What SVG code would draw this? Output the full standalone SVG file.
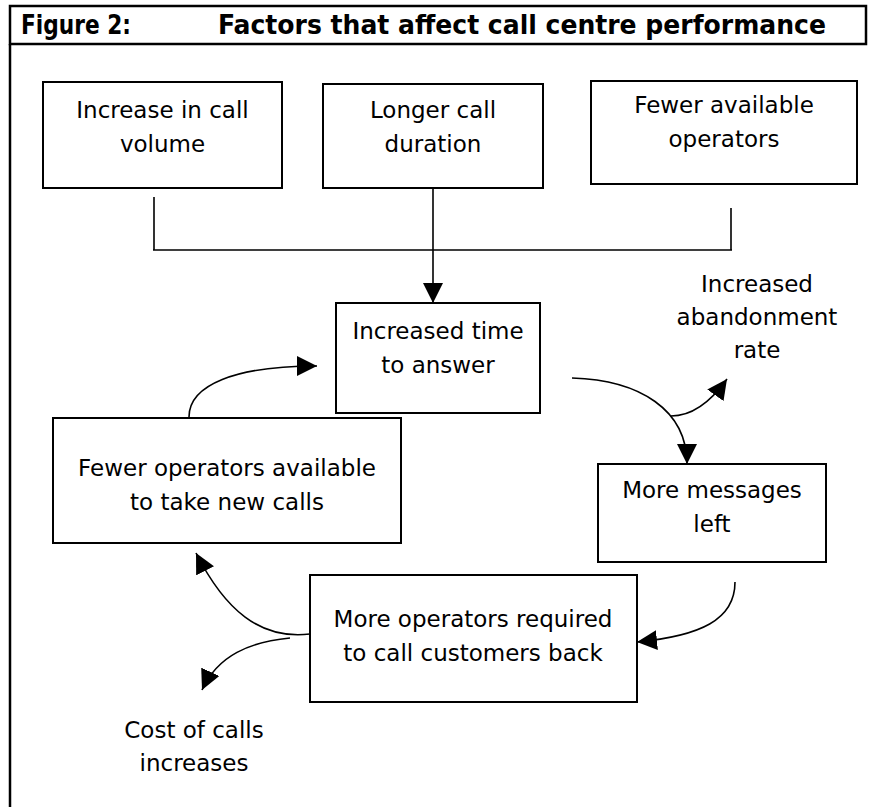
<svg xmlns="http://www.w3.org/2000/svg" width="872" height="807" viewBox="0 0 872 807">
<defs>
<style>
.frame{fill:none;stroke:#000;stroke-width:2.5}
.box{fill:#fff;stroke:#000;stroke-width:2}
.t{font-family:"DejaVu Sans",Verdana,sans-serif;font-size:23px;text-anchor:middle;fill:#000}
.h{font-family:"DejaVu Sans Condensed","DejaVu Sans",sans-serif;font-weight:bold;font-size:27px;fill:#000}
.ln{fill:none;stroke:#000;stroke-width:1.6}
</style>
<marker id="ah" viewBox="0 0 20 20" refX="20" refY="10" markerWidth="20" markerHeight="20" markerUnits="userSpaceOnUse" orient="auto"><path d="M0,0 L20,10 L0,20 z" fill="#000"/></marker>
</defs>
<rect width="872" height="807" fill="#fff"/>
<g id="frame">
<rect class="frame" x="10" y="6" width="856" height="38"/>
<line class="frame" x1="10" y1="44" x2="10" y2="807"/>
<text class="h" x="21" y="34" textLength="110" lengthAdjust="spacingAndGlyphs">Figure 2:</text>
<text class="h" x="218" y="34" textLength="608" lengthAdjust="spacingAndGlyphs">Factors that affect call centre performance</text>
</g>
<g id="connectors">
<path class="ln" d="M154,197 V250 M731,208 V250 M153,250 H732"/>
<path class="ln" d="M433,189 V303" marker-end="url(#ah)"/>
<path class="ln" d="M189,417 C189,385 235,366 317,366" marker-end="url(#ah)"/>
<path class="ln" d="M572,378 C640,380 687,410 687,464" marker-end="url(#ah)"/>
<path class="ln" d="M671,416 C693,416 712,400 727,379" marker-end="url(#ah)"/>
<path class="ln" d="M735,582 C735,620 700,636 637,642" marker-end="url(#ah)"/>
<path class="ln" d="M310,634 C260,640 225,610 196,553" marker-end="url(#ah)"/>
<path class="ln" d="M290,638 C250,642 218,655 202,690" marker-end="url(#ah)"/>
</g>
<g id="n-volume">
<rect class="box" x="43" y="82" width="239" height="106"/>
<text class="t" x="162.5" y="118">Increase in call</text>
<text class="t" x="162.5" y="152">volume</text>
</g>
<g id="n-duration">
<rect class="box" x="323" y="84" width="220" height="104"/>
<text class="t" x="433" y="118">Longer call</text>
<text class="t" x="433" y="152">duration</text>
</g>
<g id="n-operators">
<rect class="box" x="591" y="81" width="266" height="103"/>
<text class="t" x="724" y="113">Fewer available</text>
<text class="t" x="724" y="147">operators</text>
</g>
<g id="n-time">
<rect class="box" x="336" y="303" width="204" height="110"/>
<text class="t" x="438" y="339">Increased time</text>
<text class="t" x="438" y="373">to answer</text>
</g>
<g id="n-abandon">
<text class="t" x="757" y="292">Increased</text>
<text class="t" x="757" y="325">abandonment</text>
<text class="t" x="757" y="358">rate</text>
</g>
<g id="n-fewer">
<rect class="box" x="53" y="418" width="348" height="125"/>
<text class="t" x="227" y="476">Fewer operators available</text>
<text class="t" x="227" y="510">to take new calls</text>
</g>
<g id="n-messages">
<rect class="box" x="598" y="464" width="228" height="98"/>
<text class="t" x="712" y="498">More messages</text>
<text class="t" x="712" y="532">left</text>
</g>
<g id="n-callback">
<rect class="box" x="310" y="575" width="327" height="127"/>
<text class="t" x="473" y="627">More operators required</text>
<text class="t" x="473" y="661">to call customers back</text>
</g>
<g id="n-cost">
<text class="t" x="194" y="738">Cost of calls</text>
<text class="t" x="194" y="771">increases</text>
</g>
</svg>
